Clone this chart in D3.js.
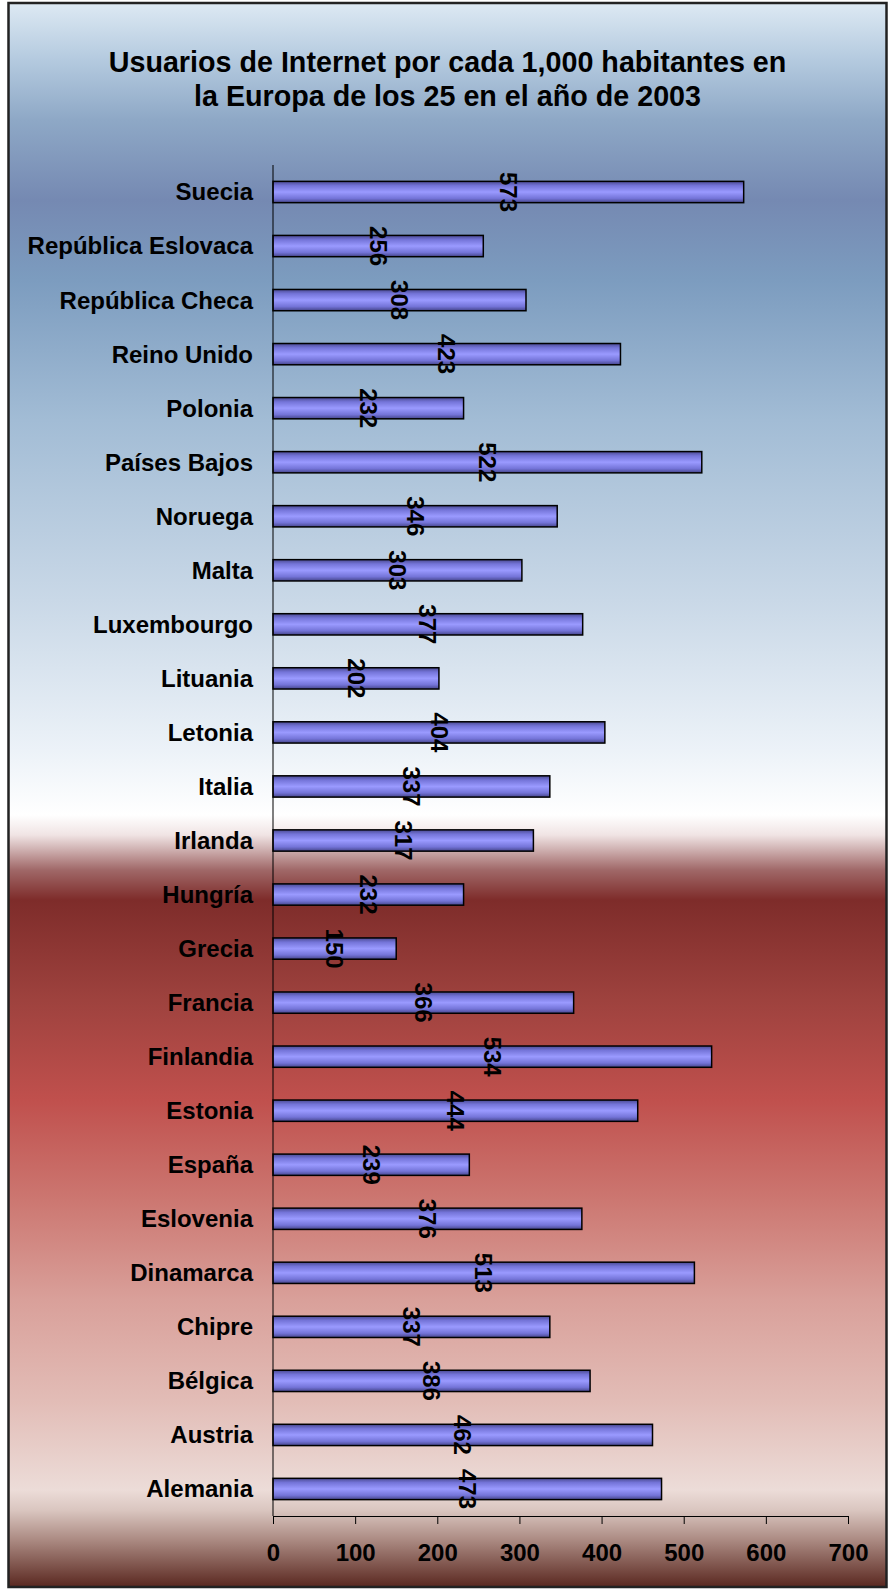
<!DOCTYPE html>
<html>
<head>
<meta charset="utf-8">
<script src="https://cdn.jsdelivr.net/npm/d3@7"></script>
<style>
  html, body { margin: 0; padding: 0; background: #ffffff; }
  svg { display: block; }
  text { font-family: Arial, "Liberation Sans", sans-serif; font-weight: bold; fill: #000; }
</style>
</head>
<body>
<svg id="chart" width="888" height="1589"></svg>
<script>
// ---- data ----
const titleLines = ["Usuarios de Internet por cada 1,000 habitantes en", "la Europa de los 25 en el año de 2003"];
const countries = ["Suecia", "República Eslovaca", "República Checa", "Reino Unido", "Polonia",
  "Países Bajos", "Noruega", "Malta", "Luxembourgo", "Lituania", "Letonia", "Italia", "Irlanda",
  "Hungría", "Grecia", "Francia", "Finlandia", "Estonia", "España", "Eslovenia", "Dinamarca",
  "Chipre", "Bélgica", "Austria", "Alemania"];
const users = [573, 256, 308, 423, 232, 522, 346, 303, 377, 202, 404, 337, 317,
  232, 150, 366, 534, 444, 239, 376, 513, 337, 386, 462, 473];
const xTicks = [0, 100, 200, 300, 400, 500, 600, 700];

// ---- layout ----
const W = 888, H = 1589;
const frame = { x: 8.5, y: 3, w: 878, h: 1584 };
const plot = { left: 273, right: 848, top: 165, bottom: 1516 };

const svg = d3.select("#chart");
const defs = svg.append("defs");

// background gradient (absolute y positions)
const bgStops = [
  [3, "#dde9f3"], [60, "#b4cadf"], [120, "#8ea8c6"], [200, "#7589b2"], [280, "#7c9cbf"],
  [420, "#a2bcd5"], [600, "#c9d8e7"], [750, "#ecf2f8"], [815, "#ffffff"], [835, "#f0e4e4"],
  [870, "#a06868"], [900, "#7e2c2a"], [1000, "#9e423e"], [1100, "#c0504d"], [1200, "#cc7771"],
  [1300, "#d9a09a"], [1400, "#e2bcb6"], [1490, "#ecdcd8"], [1510, "#dac6c0"], [1540, "#ab8a82"],
  [1587, "#5a2820"]
];
const bg = defs.append("linearGradient").attr("id", "bg")
  .attr("gradientUnits", "userSpaceOnUse")
  .attr("x1", 0).attr("x2", 0).attr("y1", frame.y).attr("y2", frame.y + frame.h);
bgStops.forEach(([y, c]) => bg.append("stop")
  .attr("offset", (y - frame.y) / frame.h).attr("stop-color", c));

const barGrad = defs.append("linearGradient").attr("id", "barg")
  .attr("x1", 0).attr("x2", 0).attr("y1", 0).attr("y2", 1);
[[0, "#4a4a92"], [0.2, "#7474d8"], [0.5, "#9a9aff"], [0.8, "#7474d8"], [1, "#45458a"]]
  .forEach(([o, c]) => barGrad.append("stop").attr("offset", o).attr("stop-color", c));

svg.append("rect")
  .attr("x", frame.x).attr("y", frame.y).attr("width", frame.w).attr("height", frame.h)
  .attr("fill", "url(#bg)").attr("stroke", "#222").attr("stroke-width", 2.5);

// title
svg.append("g").selectAll("text").data(titleLines).join("text")
  .attr("x", frame.x + frame.w / 2)
  .attr("y", (d, i) => 71.5 + i * 34.7)
  .attr("text-anchor", "middle")
  .style("font-size", "28.7px")
  .text(d => d);

// scales
const x = d3.scaleLinear().domain([0, 700]).range([plot.left, plot.right]);
const y = d3.scaleBand().domain(countries).range([plot.top, plot.bottom])
  .paddingInner(0.606).paddingOuter(0.303);

// bars
svg.append("g").selectAll("rect").data(countries).join("rect")
  .attr("x", x(0))
  .attr("y", d => y(d))
  .attr("width", (d, i) => x(users[i]) - x(0))
  .attr("height", y.bandwidth())
  .attr("fill", "url(#barg)")
  .attr("stroke", "#000").attr("stroke-width", 1.5);

// category labels
svg.append("g").selectAll("text").data(countries).join("text")
  .attr("x", plot.left - 20)
  .attr("y", d => y(d) + y.bandwidth() / 2)
  .attr("dy", "0.35em")
  .attr("text-anchor", "end")
  .style("font-size", "24px")
  .text(d => d);

// y axis line
svg.append("line")
  .attr("x1", plot.left).attr("x2", plot.left)
  .attr("y1", plot.top).attr("y2", plot.bottom)
  .attr("stroke", "#000").attr("stroke-width", 1);

// x axis
const xAxis = d3.axisBottom(x).tickValues(xTicks).tickSize(8).tickSizeOuter(0).tickPadding(20)
  .tickFormat(d3.format("d"));
const gx = svg.append("g").attr("transform", `translate(0,${plot.bottom})`).call(xAxis);
gx.select(".domain").attr("stroke", "#000").attr("stroke-width", 1);
gx.selectAll(".tick line").attr("stroke", "#000").attr("stroke-width", 1);
gx.selectAll(".tick text")
  .style("font-family", 'Arial, "Liberation Sans", sans-serif')
  .style("font-weight", "bold").style("font-size", "24px").attr("fill", "#000");

// value labels (rotated)
svg.append("g").selectAll("text").data(countries).join("text")
  .attr("transform", (d, i) =>
    `translate(${(x(0) + x(users[i])) / 2},${y(d) + y.bandwidth() / 2}) rotate(90)`)
  .attr("text-anchor", "middle")
  .attr("dy", "0.35em")
  .style("font-size", "24px")
  .text((d, i) => users[i]);
</script>
</body>
</html>
